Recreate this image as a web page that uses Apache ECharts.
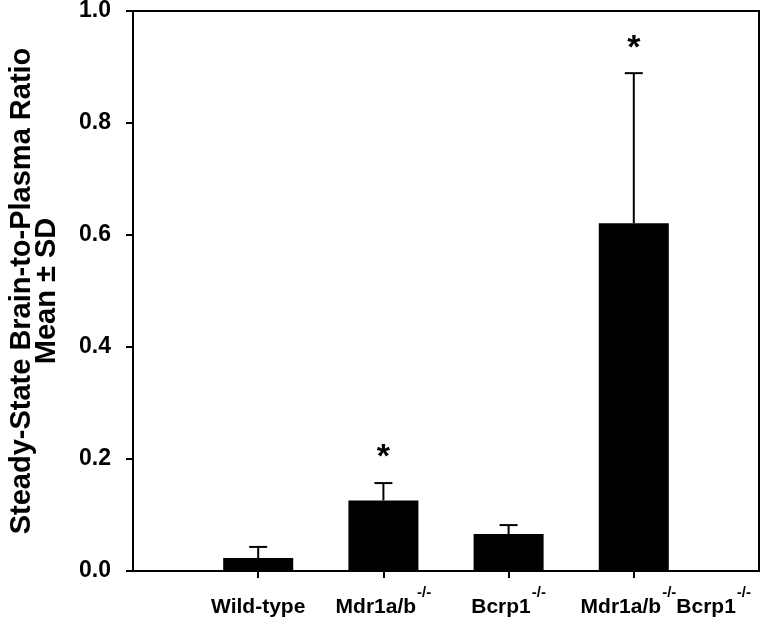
<!DOCTYPE html>
<html>
<head>
<meta charset="utf-8">
<script src="https://cdn.jsdelivr.net/npm/echarts@6/dist/echarts.min.js"></script>
<style>html,body{margin:0;padding:0;background:#fff;}#c{width:774px;height:626px;}</style>
</head>
<body>
<div id="c"></div>
<script>
var categories = ['Wild-type', 'Mdr1a/b', 'Bcrp1', 'Mdr1a/b Bcrp1'];
var means = [0.023, 0.126, 0.066, 0.621];
var sds = [0.020, 0.031, 0.016, 0.268];
var significant = [0, 1, 0, 1];
var yTicks = [0.0, 0.2, 0.4, 0.6, 0.8, 1.0];

var FONT = 'Liberation Sans, Arial, sans-serif';
var axisCats = [''].concat(categories).concat(['']);
var barData = [null].concat(means).concat([null]);
var errData = categories.map(function (c, i) { return [i + 1, means[i], sds[i], significant[i]]; });

function catLabel(v) {
  if (v === 'Wild-type') return '{a|Wild-type}';
  if (v === 'Mdr1a/b') return '{a|Mdr1a/b}{s|-/-}';
  if (v === 'Bcrp1') return '{a|Bcrp1}{s|-/-}';
  if (v === 'Mdr1a/b Bcrp1') return '{p|}{a|Mdr1a/b}{s|-/-}{a|Bcrp1}{s|-/-}';
  return '';
}

var chart = echarts.init(document.getElementById('c'), null, {renderer: 'canvas'});
chart.setOption({
  animation: false,
  backgroundColor: '#fff',
  grid: {left: 133, right: 15, top: 11, bottom: 55, show: true, borderColor: '#000', borderWidth: 2,
    backgroundColor: 'transparent', outerBoundsMode: 'none', containLabel: false},
  xAxis: {
    type: 'category',
    data: axisCats,
    boundaryGap: false,
    axisLine: {lineStyle: {color: '#000', width: 2}},
    axisTick: {show: true, length: 7, lineStyle: {color: '#000', width: 2},
      interval: function (i, v) { return v !== ''; }},
    axisLabel: {
      interval: function (i, v) { return v !== ''; },
      margin: 14,
      formatter: catLabel,
      rich: {
        a: {fontFamily: FONT, fontWeight: 'bold', fontSize: 21, color: '#000', verticalAlign: 'middle', lineHeight: 45},
        s: {fontFamily: FONT, fontWeight: 'bold', fontSize: 15, color: '#000', verticalAlign: 'top', lineHeight: 14, padding: [0, 0, 0, 1]},
        p: {width: 64}
      }
    },
    splitLine: {show: false}
  },
  yAxis: {
    type: 'value',
    min: 0, max: 1, interval: 0.2,
    name: 'Steady-State Brain-to-Plasma Ratio\nMean ± SD',
    nameLocation: 'middle',
    nameRotate: 90,
    nameGap: 74,
    nameTextStyle: {fontFamily: FONT, fontWeight: 'bold', fontSize: 29, color: '#000', lineHeight: 25},
    axisLine: {show: true, lineStyle: {color: '#000', width: 2}},
    axisTick: {show: true, length: 7, lineStyle: {color: '#000', width: 2}},
    axisLabel: {fontFamily: FONT, fontWeight: 'bold', fontSize: 23, color: '#000', margin: 22,
      formatter: function (v) { return v.toFixed(1); }},
    splitLine: {show: false}
  },
  series: [
    {type: 'bar', data: barData, barWidth: 70, itemStyle: {color: '#000'}, z: 2},
    {type: 'custom', data: errData, z: 3,
      renderItem: function (params, api) {
        var x = api.value(0), m = api.value(1), sd = api.value(2), sig = api.value(3);
        var p0 = api.coord([x, m]);
        var p1 = api.coord([x, m + sd]);
        var ch = [
          {type: 'line', shape: {x1: p0[0], y1: p0[1], x2: p1[0], y2: p1[1]}, style: {stroke: '#000', lineWidth: 2}},
          {type: 'line', shape: {x1: p1[0] - 9, y1: p1[1], x2: p1[0] + 9, y2: p1[1]}, style: {stroke: '#000', lineWidth: 2}}
        ];
        if (sig) {
          ch.push({type: 'text', style: {text: '*', x: p1[0], y: p1[1] - 25, align: 'center', verticalAlign: 'middle',
            font: 'bold 34px ' + FONT, fill: '#000'}});
        }
        return {type: 'group', children: ch};
      }
    }
  ]
});
</script>
</body>
</html>
